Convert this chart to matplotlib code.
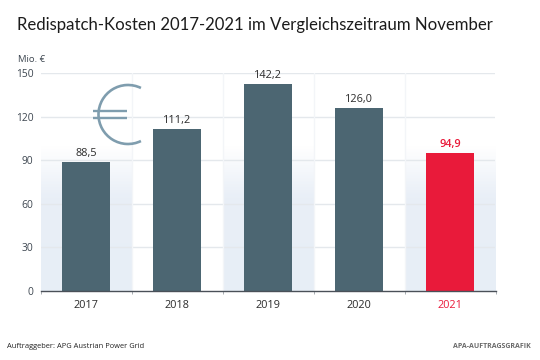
import numpy as np
import matplotlib
matplotlib.use("Agg")
import matplotlib.pyplot as plt
from matplotlib.patches import Arc
from matplotlib.colors import LinearSegmentedColormap

years = ["2017", "2018", "2019", "2020", "2021"]
values = [88.5, 111.2, 142.2, 126.0, 94.9]
value_labels = ["88,5", "111,2", "142,2", "126,0", "94,9"]
yticks = [0, 30, 60, 90, 120, 150]
bar_colors = ["#4c6672", "#4c6672", "#4c6672", "#4c6672", "#e91a3a"]
band_slots = [0, 2, 4]

W, H = 540, 360
plt.rcParams["font.family"] = ["Open Sans", "DejaVu Sans"]
fig = plt.figure(figsize=(W / 100, H / 100), dpi=100, facecolor="white")
L, R, T, B = 40.5, 495.5, 73, 291
ax = fig.add_axes([L / W, 1 - B / H, (R - L) / W, (B - T) / H])

cmap = LinearSegmentedColormap.from_list(
    "band", [(0, "#e7eef6"), (0.65, "#e9eff7"), (1, "#ffffff")])
grad = np.linspace(0, 1, 64).reshape(-1, 1)
for s in band_slots:
    ax.imshow(grad, extent=(s - 0.5, s + 0.5, 0, 100), origin="lower", aspect="auto",
              cmap=cmap, zorder=0)
ax.set_xlim(-0.5, 4.5)
ax.set_ylim(0, 150)

for y in yticks[1:]:
    ax.axhline(y, color="#e4e8ec", lw=1, zorder=1)
for x in np.arange(0.5, 4, 1):
    ax.axvline(x, color="#f3f5f8", lw=1, zorder=1)

ax.bar(range(5), values, width=0.535, color=bar_colors, zorder=3)

for i, (v, t) in enumerate(zip(values, value_labels)):
    red = i == 4
    ax.text(i, v + 2.0, t, ha="center", va="bottom", fontsize=7.8, zorder=4,
            color="#e91a3a" if red else "#2b2b2b", fontweight="semibold" if red else "normal")

for s in ["top", "right", "left"]:
    ax.spines[s].set_visible(False)
ax.spines["bottom"].set_color("#4a5058")
ax.spines["bottom"].set_linewidth(1)
ax.spines["bottom"].set_zorder(5)
ax.set_yticks(yticks)
ax.tick_params(axis="y", length=0, pad=5, labelsize=7.4, labelcolor="#3d4650")
ax.set_xticks(np.arange(-0.5, 5, 1))
ax.set_xticklabels([])
ax.tick_params(axis="x", length=2.5, width=0.6, color="#9aa0a6")
for i, y in enumerate(years):
    ax.text(i, -10.3, y, ha="center", va="center", fontsize=7.8, clip_on=False,
            color="#e91a3a" if i == 4 else "#2b2b2b")

# Overlay in pixel coordinates for decoration and page text
ov = fig.add_axes([0, 0, 1, 1], facecolor="none")
ov.set_xlim(0, W)
ov.set_ylim(H, 0)
ov.axis("off")
euro = "#7f9dae"
ov.add_patch(Arc((128, 114.5), 59, 59, theta1=64, theta2=296, color=euro, lw=1.9))
ov.plot([93, 127], [110.8, 110.8], color=euro, lw=1.7, solid_capstyle="butt")
ov.plot([93, 127], [117.5, 117.5], color=euro, lw=1.7, solid_capstyle="butt")

ov.text(17, 25, "Redispatch-Kosten 2017-2021 im Vergleichszeitraum November", fontsize=12.05,
        family=["Lato", "DejaVu Sans"], color="#1c1c1c", va="center", ha="left")
ov.text(17.5, 59, "Mio. €", fontsize=6.8, color="#3d4650", va="center", ha="left")
ov.text(7, 346.5, "Auftraggeber: APG Austrian Power Grid", fontsize=5.4, color="#222222",
        va="center", ha="left")
ov.text(531, 346.5, "APA-AUFTRAGSGRAFIK", fontsize=5.0, color="#6a6a6a", fontweight="bold",
        va="center", ha="right")

fig.savefig("out.png", dpi=100)
